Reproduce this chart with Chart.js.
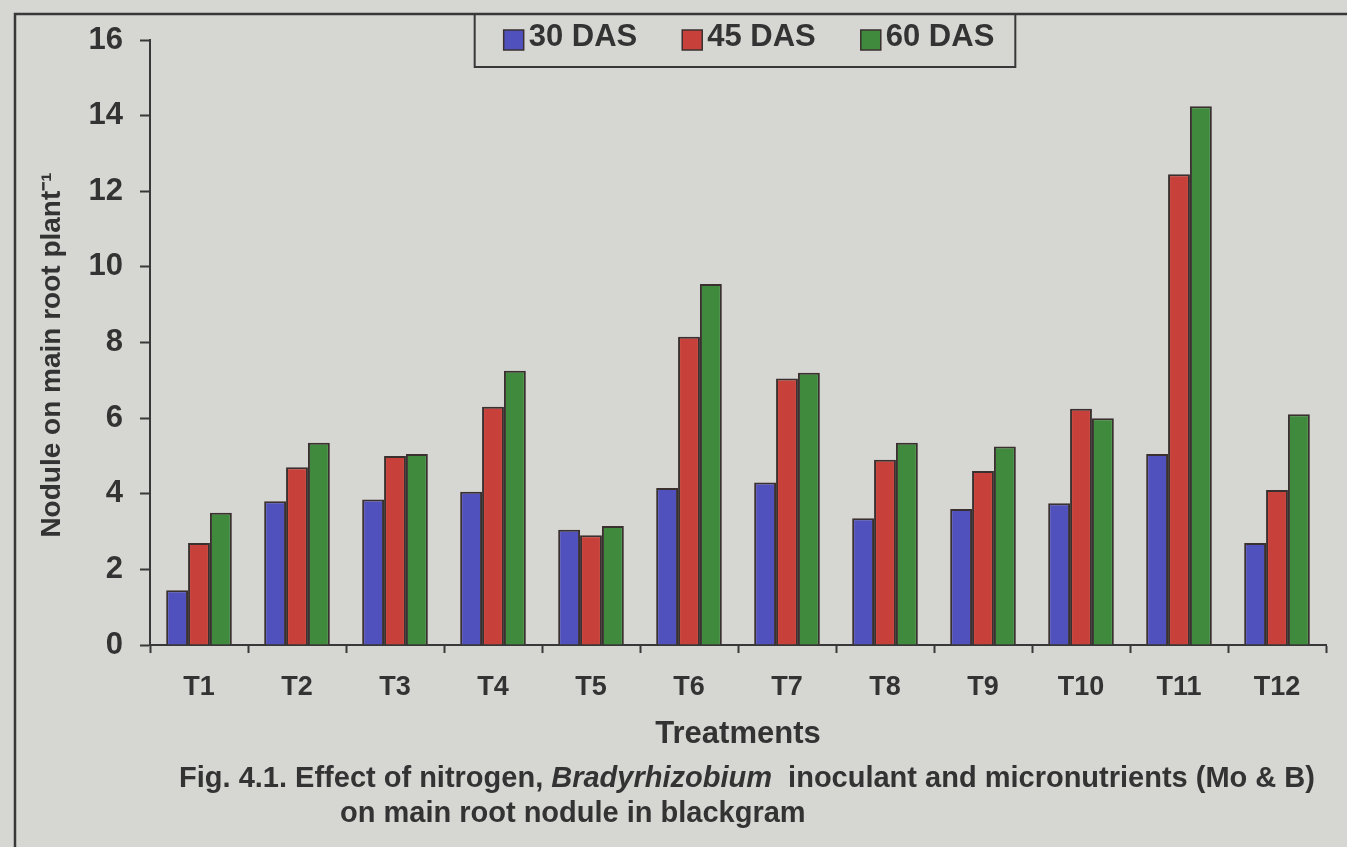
<!DOCTYPE html>
<html>
<head>
<meta charset="utf-8">
<title>Nodule on main root</title>
<script src="https://cdn.jsdelivr.net/npm/chart.js@4.4.1/dist/chart.umd.min.js"></script>
<style>
  html, body { margin: 0; padding: 0; background: #d6d6d3; overflow: hidden; }
  #wrap { position: relative; width: 1347px; height: 847px; }
  #wrap canvas { position: absolute; left: 0; top: 0; }
</style>
</head>
<body>
<div id="wrap"><canvas id="nodules" width="1347" height="847"></canvas></div>
<script>
// Treatments on the category axis
const treatments = ['T1', 'T2', 'T3', 'T4', 'T5', 'T6', 'T7', 'T8', 'T9', 'T10', 'T11', 'T12'];

// Nodules on the main root per plant, by days after sowing
const das30 = [1.45, 3.8, 3.85, 4.05, 3.05, 4.15, 4.3, 3.35, 3.6, 3.75, 5.05, 2.7];
const das45 = [2.7, 4.7, 5.0, 6.3, 2.9, 8.15, 7.05, 4.9, 4.6, 6.25, 12.45, 4.1];
const das60 = [3.5, 5.35, 5.05, 7.25, 3.15, 9.55, 7.2, 5.35, 5.25, 6.0, 14.25, 6.1];

const seriesLabels = ['30 DAS', '45 DAS', '60 DAS'];
const seriesColors = ['#5151bd', '#c8403a', '#3f8a3c'];

// Value axis range and tick step
const yMin = 0;
const yMax = 16;
const yStep = 2;

const yTitle = 'Nodule on main root plant\u207B\u00B9';
const xTitle = 'Treatments';
const captionLine1 = [
  { text: 'Fig. 4.1. Effect of nitrogen, ', italic: false },
  { text: 'Bradyrhizobium', italic: true },
  { text: '  inoculant and micronutrients (Mo & B)', italic: false }
];
const captionLine2 = 'on main root nodule in blackgram';

const FONT = "'Liberation Sans', Arial, sans-serif";
const INK = '#333333';
const LINE = '#383838';

// Frame, value-axis title, boxed legend and figure caption
const decor = {
  id: 'decor',
  afterDraw(chart) {
    const ctx = chart.ctx;
    const area = chart.chartArea;
    ctx.save();

    // page frame (left and top rules)
    ctx.strokeStyle = LINE;
    ctx.lineWidth = 2.5;
    ctx.beginPath();
    ctx.moveTo(15, 847);
    ctx.lineTo(15, 14);
    ctx.lineTo(1347, 14);
    ctx.stroke();

    // value-axis title, rotated
    ctx.save();
    ctx.translate(52, 355);
    ctx.rotate(-Math.PI / 2);
    ctx.font = 'bold 28px ' + FONT;
    ctx.fillStyle = INK;
    ctx.textAlign = 'center';
    ctx.textBaseline = 'middle';
    ctx.fillText(yTitle, 0, 0);
    ctx.restore();

    // legend, laid out from the dataset labels and colours
    ctx.font = 'bold 31px ' + FONT;
    ctx.textBaseline = 'middle';
    ctx.textAlign = 'left';
    const sw = 20, gapBoxText = 5, gapItems = 45;
    const items = chart.data.datasets.map(ds => ({
      label: ds.label, color: ds.backgroundColor, w: ctx.measureText(ds.label).width
    }));
    const total = items.reduce((s, it) => s + sw + gapBoxText + it.w, 0) + gapItems * (items.length - 1);
    const cx = (area.left + area.right) / 2 + 11;
    let x = cx - total / 2;
    const boxPadL = 29, boxPadR = 21;
    ctx.lineWidth = 2;
    ctx.strokeStyle = LINE;
    ctx.strokeRect(x - boxPadL, 14, total + boxPadL + boxPadR, 53);
    items.forEach(it => {
      ctx.fillStyle = it.color;
      ctx.fillRect(x, 30, sw, sw);
      ctx.lineWidth = 1.5;
      ctx.strokeStyle = '#3a3030';
      ctx.strokeRect(x, 30, sw, sw);
      ctx.fillStyle = INK;
      ctx.fillText(it.label, x + sw + gapBoxText, 37);
      x += sw + gapBoxText + it.w + gapItems;
    });

    // caption
    const capSize = 29;
    const normal = 'bold ' + capSize + 'px ' + FONT;
    const italic = 'italic bold ' + capSize + 'px ' + FONT;
    ctx.textBaseline = 'alphabetic';
    ctx.fillStyle = INK;
    let w1 = 0;
    captionLine1.forEach(p => { ctx.font = p.italic ? italic : normal; w1 += ctx.measureText(p.text).width; });
    let px = 747 - w1 / 2;
    captionLine1.forEach(p => {
      ctx.font = p.italic ? italic : normal;
      ctx.fillText(p.text, px, 787);
      px += ctx.measureText(p.text).width;
    });
    ctx.font = normal;
    ctx.fillText(captionLine2, 340, 822);

    ctx.restore();
  }
};

const datasets = [das30, das45, das60].map((values, i) => ({
  label: seriesLabels[i],
  data: values,
  backgroundColor: seriesColors[i],
  borderColor: '#3a3030',
  borderWidth: 2,
  categoryPercentage: 0.67,
  barPercentage: 1.0
}));

new Chart(document.getElementById('nodules'), {
  type: 'bar',
  data: { labels: treatments, datasets },
  options: {
    responsive: false,
    animation: false,
    events: [],
    layout: { padding: { left: 0, right: 21, top: 40, bottom: 0 } },
    plugins: {
      legend: { display: false },
      title: { display: false },
      tooltip: { enabled: false }
    },
    scales: {
      x: {
        grid: {
          display: true, drawOnChartArea: false, drawTicks: true,
          tickLength: 8, tickColor: LINE, tickWidth: 2, offset: true
        },
        border: { display: true, color: LINE, width: 2 },
        ticks: { color: INK, font: { family: FONT, size: 27, weight: 'bold' }, padding: 18, maxRotation: 0, autoSkip: false },
        title: {
          display: true, text: xTitle, color: INK,
          font: { family: FONT, size: 31, weight: 'bold' }, padding: { top: 0, bottom: 94 }
        },
        afterFit(scale) { scale.height = 202; }
      },
      y: {
        min: yMin, max: yMax,
        grid: {
          display: true, drawOnChartArea: false, drawTicks: true,
          tickLength: 10, tickColor: LINE, tickWidth: 2
        },
        border: { display: true, color: LINE, width: 2 },
        ticks: { stepSize: yStep, color: INK, font: { family: FONT, size: 31, weight: 'bold' }, padding: 17 },
        title: { display: false },
        afterFit(scale) { scale.width = 150; }
      }
    }
  },
  plugins: [decor]
});
</script>
</body>
</html>
